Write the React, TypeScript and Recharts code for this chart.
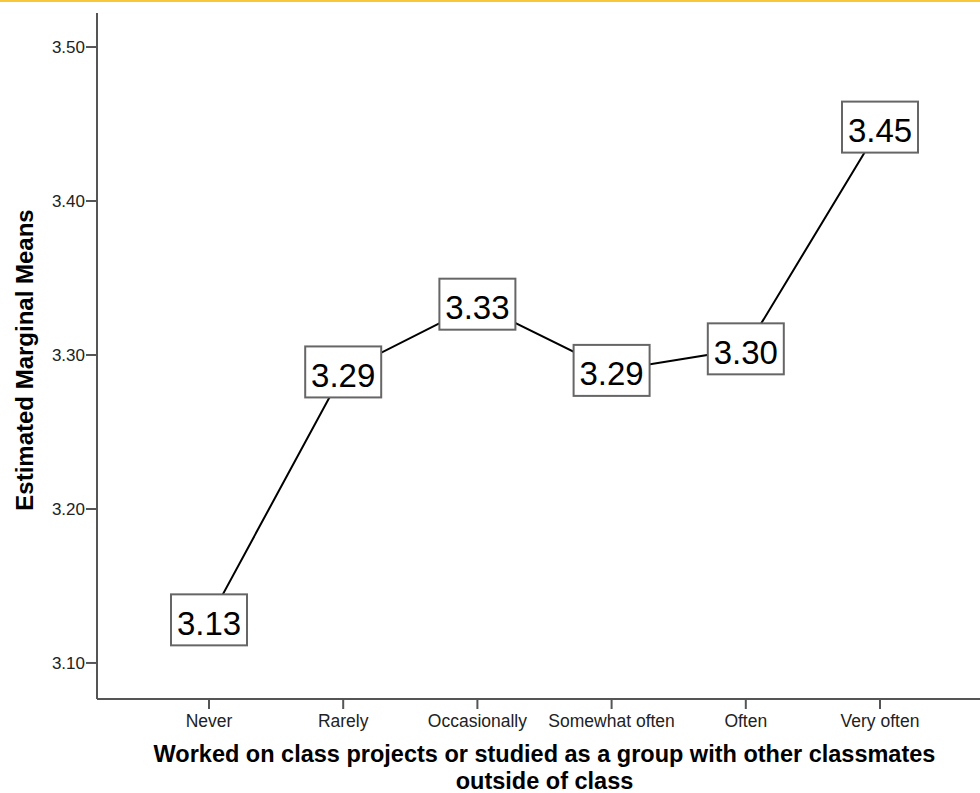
import React from 'react';
import { LineChart, Line, XAxis, YAxis } from 'recharts';

const categories = ['Never', 'Rarely', 'Occasionally', 'Somewhat often', 'Often', 'Very often'];
const means = [3.128, 3.289, 3.333, 3.29, 3.304, 3.448];
const yTicks = [3.1, 3.2, 3.3, 3.4, 3.5];
const yDomain: [number, number] = [3.0766, 3.5221];
const xTitleLines = ['Worked on class projects or studied as a group with other classmates', 'outside of class'];
const yTitle = 'Estimated Marginal Means';

const data = categories.map((c, i) => ({ category: c, mean: means[i] }));

const FONT = 'Arial, "Liberation Sans", sans-serif';
const AXIS = '#555';

const MeanBox = (props: any) => {
  const { cx, cy, payload, index } = props;
  if (cx == null || cy == null) return null;
  const v = payload.mean as number;
  return (
    <g key={`box-${index}`}>
      <rect x={cx - 38} y={cy - 25.5} width={76} height={51} fill="#fff" stroke="#666" strokeWidth={2} />
      <text x={cx} y={cy + 15} textAnchor="middle" fontFamily={FONT} fontSize={33} fill="#000">
        {v.toFixed(2)}
      </text>
    </g>
  );
};

const XTitle = (props: any) => {
  const vb = props.viewBox;
  const cx = vb.x + vb.width / 2;
  return (
    <g>
      <text x={cx} y={vb.y + 63} textAnchor="middle" fontFamily={FONT} fontSize={23.5} fontWeight="bold" fill="#000">
        {xTitleLines[0]}
      </text>
      <text x={cx} y={vb.y + 90} textAnchor="middle" fontFamily={FONT} fontSize={23.5} fontWeight="bold" fill="#000">
        {xTitleLines[1]}
      </text>
    </g>
  );
};

const YTitle = (props: any) => {
  const vb = props.viewBox;
  const x = vb.x - 13;
  const y = vb.y + vb.height / 2 + 4;
  return (
    <text
      x={x}
      y={y}
      transform={`rotate(-90, ${x}, ${y})`}
      textAnchor="middle"
      dominantBaseline="central"
      fontFamily={FONT}
      fontSize={24}
      fontWeight="bold"
      fill="#000"
    >
      {yTitle}
    </text>
  );
};

export default function App() {
  return (
    <div style={{ position: 'absolute', left: 0, top: 0, width: 980, height: 793, overflow: 'hidden', background: '#fff' }}>
      <div style={{ position: 'absolute', left: 0, top: 0, width: 980, height: 2, background: '#F8C838' }} />
      <LineChart width={1000} height={793} data={data} margin={{ top: 13, right: 8, bottom: 34, left: 37 }}>
        <XAxis
          dataKey="category"
          type="category"
          height={60}
          padding={{ left: 112, right: 112 }}
          axisLine={{ stroke: AXIS, strokeWidth: 2 }}
          tickLine={{ stroke: AXIS, strokeWidth: 2 }}
          tickSize={10}
          tickMargin={6}
          tick={{ fill: '#222', fontSize: 17.5, fontFamily: FONT }}
          interval={0}
          label={<XTitle />}
        />
        <XAxis
          xAxisId="top"
          orientation="top"
          dataKey="category"
          height={0}
          tick={false}
          tickLine={false}
          axisLine={{ stroke: '#777', strokeWidth: 2 }}
        />
        <YAxis
          type="number"
          domain={yDomain}
          allowDataOverflow
          ticks={yTicks}
          width={60}
          axisLine={{ stroke: AXIS, strokeWidth: 2 }}
          tickLine={{ stroke: AXIS, strokeWidth: 2 }}
          tickSize={11}
          tickMargin={1}
          tick={{ fill: '#222', fontSize: 17, fontFamily: FONT }}
          tickFormatter={(v: number) => v.toFixed(2)}
          label={<YTitle />}
        />
        <Line
          dataKey="mean"
          stroke="#000"
          strokeWidth={2}
          isAnimationActive={false}
          dot={<MeanBox />}
          activeDot={false}
        />
      </LineChart>
    </div>
  );
}
